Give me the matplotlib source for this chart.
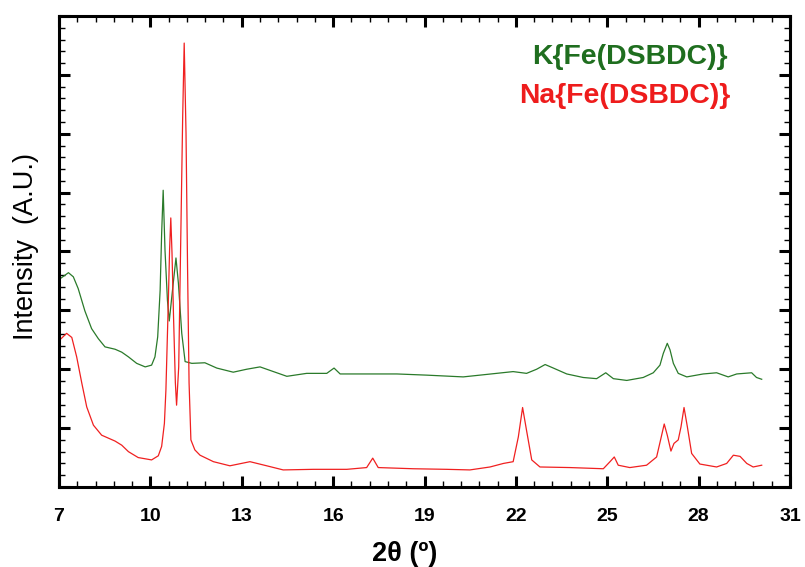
import numpy as np
import matplotlib
matplotlib.use('Agg')
import matplotlib.pyplot as plt
from matplotlib.ticker import FixedLocator, NullFormatter, MultipleLocator

# K{Fe(DSBDC)} pattern (2theta, intensity)
k_2theta = [7.07, 7.31, 7.47, 7.63, 7.85, 8.07, 8.29, 8.51, 8.84, 9.06, 9.28, 9.55, 9.83,
            10.04, 10.15, 10.24, 10.32, 10.37, 10.42, 10.48, 10.56, 10.62, 10.75, 10.84, 10.92,
            11.03, 11.14, 11.36, 11.79, 12.18, 12.72, 13.16, 13.60, 14.04, 14.48, 15.13, 15.79,
            16.03, 16.23, 16.99, 18.09, 19.07, 20.27, 20.82, 21.91, 22.35, 22.68, 22.96, 23.23,
            23.67, 24.21, 24.65, 24.95, 25.20, 25.64, 26.18, 26.51, 26.73, 26.84, 26.97, 27.06,
            27.17, 27.33, 27.61, 28.15, 28.59, 28.97, 29.25, 29.74, 29.90, 30.07]
k_int = [3.55, 3.64, 3.57, 3.37, 2.99, 2.69, 2.52, 2.38, 2.34, 2.29, 2.21, 2.10, 2.04,
         2.07, 2.21, 2.55, 3.34, 4.31, 5.04, 4.02, 3.17, 2.82, 3.46, 3.89, 3.46,
         2.61, 2.13, 2.10, 2.11, 2.02, 1.95, 2.00, 2.04, 1.96, 1.88, 1.93, 1.93,
         2.02, 1.92, 1.92, 1.92, 1.90, 1.87, 1.90, 1.96, 1.93, 2.00, 2.08, 2.02,
         1.92, 1.86, 1.84, 1.94, 1.84, 1.81, 1.86, 1.94, 2.07, 2.27, 2.44, 2.33,
         2.10, 1.93, 1.87, 1.92, 1.94, 1.87, 1.92, 1.94, 1.86, 1.83]

# Na{Fe(DSBDC)} pattern
na_2theta = [7.07, 7.25, 7.42, 7.58, 7.75, 7.91, 8.13, 8.40, 8.84, 9.06, 9.28, 9.60, 10.04,
             10.26, 10.37, 10.46, 10.51, 10.59, 10.63, 10.67, 10.71, 10.76, 10.82, 10.86, 10.93,
             11.00, 11.06, 11.11, 11.17, 11.22, 11.27, 11.33, 11.46, 11.63, 12.07, 12.61, 13.27,
             13.82, 14.36, 15.35, 16.45, 17.10, 17.30, 17.48, 18.63, 19.73, 20.49, 21.15, 21.59,
             21.91, 22.08, 22.22, 22.35, 22.52, 22.79, 23.78, 24.87, 25.09, 25.23, 25.36, 25.74,
             26.29, 26.62, 26.75, 26.87, 26.97, 27.09, 27.19, 27.33, 27.42, 27.52, 27.63, 27.77,
             28.04, 28.59, 28.92, 29.14, 29.36, 29.58, 29.79, 30.07]
na_int = [2.52, 2.61, 2.54, 2.21, 1.76, 1.36, 1.05, 0.88, 0.78, 0.71, 0.60, 0.50, 0.46,
          0.53, 0.69, 1.08, 1.65, 3.17, 4.02, 4.57, 3.97, 2.89, 1.77, 1.39, 2.04,
          4.31, 6.28, 7.54, 6.01, 3.74, 1.77, 0.80, 0.63, 0.54, 0.43, 0.36, 0.43,
          0.36, 0.29, 0.30, 0.30, 0.33, 0.49, 0.33, 0.31, 0.30, 0.29, 0.34, 0.40,
          0.43, 0.85, 1.35, 0.96, 0.46, 0.34, 0.33, 0.31, 0.43, 0.51, 0.37, 0.33,
          0.37, 0.51, 0.80, 1.07, 0.88, 0.61, 0.74, 0.80, 1.02, 1.35, 1.02, 0.57,
          0.39, 0.34, 0.40, 0.54, 0.52, 0.40, 0.34, 0.37]

labels = ['K{Fe(DSBDC)}', 'Na{Fe(DSBDC)}']
x_major = [7, 10, 13, 16, 19, 22, 25, 28, 31]

plt.rcParams['font.family'] = ['Liberation Sans', 'DejaVu Sans']

fig = plt.figure(figsize=(8.05, 5.67), dpi=100)
ax = fig.add_axes([0.0733, 0.1411, 0.9081, 0.8307])

ax.plot(k_2theta, k_int, color='#2a7a2a', lw=0.9)
ax.plot(na_2theta, na_int, color='#f02020', lw=0.9)

ax.set_xlim(7, 31)
ax.set_ylim(0, 8)
ax.xaxis.set_major_locator(FixedLocator(x_major))
ax.xaxis.set_minor_locator(FixedLocator(np.arange(7, 31.01, 0.6)))
ax.yaxis.set_major_locator(MultipleLocator(1))
ax.yaxis.set_minor_locator(MultipleLocator(0.2))
ax.yaxis.set_major_formatter(NullFormatter())

ax.tick_params(which='both', direction='in', top=True, right=True)
ax.tick_params(which='major', length=8, width=2.2, labelsize=14, pad=15)
ax.tick_params(which='minor', length=4, width=1)
for lab in ax.get_xticklabels():
    lab.set_fontweight('bold')
for s in ax.spines.values():
    s.set_linewidth(2.2)

ax.set_xlabel('2θ (º)', fontsize=19.5, fontweight='bold')
ax.xaxis.set_label_coords(0.473, -0.115)
ax.set_ylabel('Intensity  (A.U.)', fontsize=19.5)
ax.yaxis.set_label_coords(-0.028, 0.51)

ax.text(0.914, 0.913, labels[0], transform=ax.transAxes, ha='right', va='center',
        fontsize=20.4, fontweight='bold', color='#1f6e1f')
ax.text(0.919, 0.830, labels[1], transform=ax.transAxes, ha='right', va='center',
        fontsize=20.4, fontweight='bold', color='#ee1c1c')

fig.savefig('out.png', dpi=100)
